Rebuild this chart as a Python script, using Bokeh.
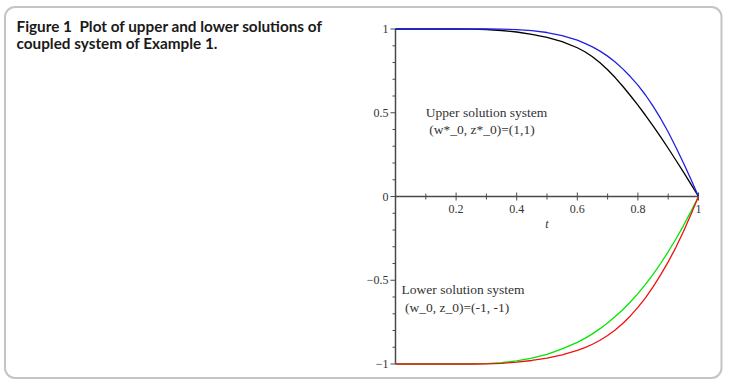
from bokeh.plotting import figure
from bokeh.models import Range1d, BoxAnnotation, ColumnDataSource
from bokeh.core.properties import value
from bokeh.embed import file_html
from bokeh.resources import INLINE

# ---- data ----
t = [0.0, 0.1, 0.2, 0.25, 0.3, 0.35, 0.4, 0.45, 0.5, 0.55,
     0.6, 0.625, 0.65, 0.675, 0.7, 0.725, 0.75, 0.775, 0.8, 0.825,
     0.85, 0.875, 0.9, 0.925, 0.95, 0.975, 1.0]
upper_black = [1.0, 1.0, 1.0, 0.999, 0.997, 0.991, 0.982, 0.968, 0.95, 0.925,
               0.888, 0.864, 0.834, 0.798, 0.757, 0.71, 0.658, 0.603, 0.545, 0.485,
               0.421, 0.356, 0.288, 0.218, 0.147, 0.074, 0.0]
upper_blue = [1.0, 1.0, 1.0, 1.0, 1.0, 0.999, 0.996, 0.99, 0.979, 0.96,
              0.933, 0.914, 0.893, 0.868, 0.838, 0.803, 0.762, 0.716, 0.665, 0.606,
              0.54, 0.466, 0.385, 0.296, 0.202, 0.103, 0.0]
lower_green = [-1.0, -1.0, -1.0, -1.0, -0.998, -0.992, -0.981, -0.965, -0.942, -0.91,
               -0.871, -0.847, -0.82, -0.789, -0.755, -0.717, -0.676, -0.63, -0.58, -0.525,
               -0.465, -0.40, -0.33, -0.255, -0.175, -0.09, 0.0]
lower_red = [-1.0, -1.0, -1.0, -1.0, -0.999, -0.996, -0.989, -0.979, -0.965, -0.945,
             -0.919, -0.902, -0.882, -0.858, -0.83, -0.797, -0.758, -0.713, -0.662, -0.605,
             -0.54, -0.468, -0.39, -0.305, -0.21, -0.108, 0.0]

x_major = [0.2, 0.4, 0.6, 0.8, 1.0]
x_major_labels = ["0.2", "0.4", "0.6", "0.8", "1"]
x_minor = [0.1, 0.3, 0.5, 0.7, 0.9]
y_major = [-1.0, -0.5, 0.0, 0.5, 1.0]
y_major_labels = ["\u22121", "\u22120.5", "0", "0.5", "1"]
y_minor = [-0.9, -0.8, -0.7, -0.6, -0.4, -0.3, -0.2, -0.1, 0.1, 0.2, 0.3, 0.4, 0.6, 0.7, 0.8, 0.9]

title_lines = ["Figure 1\u00a0\u00a0Plot of upper and lower solutions of", "coupled system of Example 1."]
upper_note = ["Upper solution system", "\u00a0(w*_0, z*_0)=(1,1)"]
lower_note = ["Lower solution system", "\u00a0(w_0, z_0)=(-1, -1)"]

# ---- layout: map page pixels to data ----
W, H = 729, 382
X0PX, SX = 395.0, 303.0      # pixel of t=0, pixels per unit t
Y0PX, SY = 196.0, 167.5      # pixel of y=0, pixels per unit y


def dx(px):
    return (px - X0PX) / SX


def dy(py):
    return (Y0PX - py) / SY


p = figure(width=W, height=H, output_backend="svg", toolbar_location=None,
           x_range=Range1d(dx(0), dx(W)), y_range=Range1d(dy(H), dy(0)),
           x_axis_location=None, y_axis_location=None, min_border=0)
p.grid.visible = False
p.outline_line_color = None
p.background_fill_color = "white"
p.border_fill_color = "white"

# rounded frame
p.add_layout(BoxAnnotation(left=dx(4.5), right=dx(721), top=dy(6.5), bottom=dy(377.5),
                           border_radius=10, fill_alpha=0, line_color="#3a3a3a", line_width=2))

# title
for i, line in enumerate(title_lines):
    p.text(x=[dx(16)], y=[dy(25 + 17.5 * i)], text=[line], text_font=value("Lato"),
           text_font_style="bold", text_font_size="15.3px", text_color="#1a1a1a",
           text_baseline="middle", text_align="left")

axis_color = "#4a4a4a"
# axes lines
p.segment(x0=[0], y0=[-1], x1=[0], y1=[1], line_color=axis_color, line_width=1.5)
p.segment(x0=[0], y0=[0], x1=[1], y1=[0], line_color=axis_color, line_width=1.5)

# y ticks
p.segment(x0=[0] * len(y_major), y0=y_major, x1=[dx(X0PX - 5)] * len(y_major), y1=y_major,
          line_color=axis_color, line_width=1)
p.segment(x0=[0] * len(y_minor), y0=y_minor, x1=[dx(X0PX - 3)] * len(y_minor), y1=y_minor,
          line_color=axis_color, line_width=1)
# x ticks
p.segment(x0=x_major, y0=[dy(Y0PX - 4)] * len(x_major), x1=x_major, y1=[dy(Y0PX + 4)] * len(x_major),
          line_color=axis_color, line_width=1)
p.segment(x0=x_minor, y0=[dy(Y0PX - 3)] * len(x_minor), x1=x_minor, y1=[dy(Y0PX + 3)] * len(x_minor),
          line_color=axis_color, line_width=1)

serif = value("Liberation Serif")
p.text(x=x_major, y=[dy(208)] * len(x_major), text=x_major_labels, text_font=serif,
       text_font_size="12px", text_color="#333333", text_align="center", text_baseline="middle")
p.text(x=[dx(388)] * len(y_major), y=y_major, text=y_major_labels, text_font=serif,
       text_font_size="12px", text_color="#333333", text_align="right", text_baseline="middle")
p.text(x=[0.5], y=[dy(223)], text=["t"], text_font=serif, text_font_style="italic",
       text_font_size="12px", text_color="#333333", text_align="center", text_baseline="middle")

# curves
src = ColumnDataSource(dict(t=t, ub=upper_black, uu=upper_blue, lg=lower_green, lr=lower_red))
p.line("t", "ub", source=src, line_color="black", line_width=1.3)
p.line("t", "uu", source=src, line_color="#2020e0", line_width=1.3)
p.line("t", "lg", source=src, line_color="#00e600", line_width=1.3)
p.line("t", "lr", source=src, line_color="#f01010", line_width=1.3)

# notes
for i, line in enumerate(upper_note):
    p.text(x=[0.1], y=[0.5 - 0.098 * i], text=[line], text_font=serif, text_font_size="13.5px",
           text_color="#333333", text_align="left", text_baseline="middle")
for i, line in enumerate(lower_note):
    p.text(x=[0.02], y=[-0.555 - 0.105 * i], text=[line], text_font=serif, text_font_size="13.5px",
           text_color="#333333", text_align="left", text_baseline="middle")

open("out.html", "w").write(file_html(p, INLINE))
